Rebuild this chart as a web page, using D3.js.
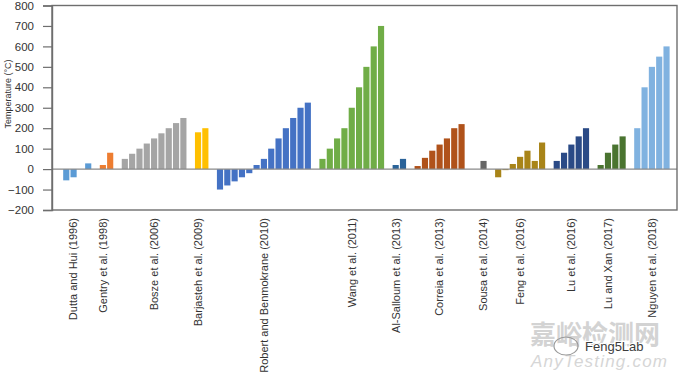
<!DOCTYPE html>
<html>
<head>
<meta charset="utf-8">
<script src="https://cdn.jsdelivr.net/npm/d3@7"></script>
<style>
  body { margin: 0; background: #fff; }
  text { font-family: "Liberation Sans", Arial, sans-serif; }
</style>
</head>
<body>
<div id="chart"></div>
<script>
// studies, in the order they appear on the x axis
const studies = [
    "Dutta and Hui (1996)", "Gentry et al. (1998)", "Bosze et al. (2006)",
    "Barjasteh et al. (2009)", "Robert and Benmokrane (2010)", "Wang et al. (2011)",
    "Al-Salloum et al. (2013)", "Correia et al. (2013)", "Sousa et al. (2014)",
    "Feng et al. (2016)", "Lu et al. (2016)", "Lu and Xan (2017)", "Nguyen et al. (2018)"
]

// temperatures (°C) tested in each study, null = empty slot
const dutta = [-55, -40, null, 28]
const gentry = [20, 80]
const bosze = [50, 75, 100, 125, 150, 175, 200, 225, 250]
const barjasteh = [180, 200]
const robert = [-100, -80, -60, -40, -20, 20, 50, 100, 150, 200, 250, 300, 325]
const wang = [50, 100, 150, 200, 300, 400, 500, 600, 700]
const alSalloum = [20, 50]
const correia = [15, 55, 90, 120, 150, 200, 220]
const sousa = [null, 40]
const feng = [-40, -5, 25, 60, 90, 40, 130]
const luEtAl = [40, 80, 120, 160, 200]
const luXan = [20, 80, 120, 160]
const nguyen = [200, 400, 500, 550, 600]

const temps = [dutta, gentry, bosze, barjasteh, robert, wang, alSalloum,
    correia, sousa, feng, luEtAl, luXan, nguyen]

const yTicks = [-200, -100, 0, 100, 200, 300, 400, 500, 600, 700, 800]

const colors = ["#5b9bd5", "#ed7d31", "#a5a5a5", "#ffc000", "#4472c4", "#70ad47",
    "#2a6399", "#b0521a", "#666666", "#a88418", "#2a4a86", "#4a7430", "#80b2e0"]

// flatten into slots, one blank slot between studies
const slots = []
const labelSlots = []
temps.forEach((vals, s) => {
    if (s > 0) slots.push({ study: s, value: null })
    const start = slots.length
    vals.forEach(v => slots.push({ study: s, value: v }))
    const filled = vals.map((v, i) => v === null ? -1 : i).filter(i => i >= 0)
    labelSlots.push(start + filled[Math.floor((filled.length - 1) / 2)])
})
slots.forEach((d, i) => d.i = i)

var margin = { top: 5.5, right: 3, bottom: 166, left: 52 },
    width = 680 - margin.left - margin.right,
    height = 376 - margin.top - margin.bottom;

var root = d3.select("#chart")
    .append("svg")
    .attr("width", 680)
    .attr("height", 376)

var svg = root.append("g")
    .attr("transform", "translate(" + margin.left + "," + margin.top + ")");

var x = d3.scaleBand()
    .domain(slots.map(d => d.i))
    .range([10.6, 618.2])
    .paddingInner(0.16)
    .paddingOuter(0.08)

var y = d3.scaleLinear()
    .domain([-200, 800])
    .range([height, 0])

// bars
svg.selectAll("rect.bar")
    .data(slots.filter(d => d.value !== null))
    .join("rect")
    .attr("class", "bar")
    .attr("x", d => x(d.i))
    .attr("width", x.bandwidth())
    .attr("y", d => y(Math.max(0, d.value)))
    .attr("height", d => Math.abs(y(d.value) - y(0)))
    .attr("fill", d => colors[d.study])

// zero line
svg.append("line")
    .attr("x1", 0).attr("x2", width)
    .attr("y1", y(0)).attr("y2", y(0))
    .attr("stroke", "#8a8a8a")
    .attr("stroke-width", 1.2)

// frame
svg.append("rect")
    .attr("width", width)
    .attr("height", height)
    .attr("fill", "none")
    .attr("stroke", "#6e6e6e")
    .attr("stroke-width", 1.4)

// y axis
var yAxis = svg.append("g")
    .call(d3.axisLeft(y).tickValues(yTicks).tickSize(9).tickPadding(9))
yAxis.select(".domain").attr("stroke", "#6e6e6e").attr("stroke-width", 1.4)
yAxis.selectAll(".tick line").attr("stroke", "#6e6e6e").attr("stroke-width", 1.2)
yAxis.selectAll(".tick text")
    .attr("fill", "#333")
    .style("font-size", "11.5px")
    .style("font-family", "'Liberation Sans', Arial, sans-serif")

// y title
root.append("text")
    .attr("transform", "translate(11,94) rotate(-90)")
    .attr("text-anchor", "middle")
    .attr("fill", "#333")
    .style("font-size", "9px")
    .text("Temperature (°C)")

// x labels
svg.selectAll("text.study")
    .data(studies)
    .join("text")
    .attr("class", "study")
    .attr("transform", (d, i) => "translate(" + (x(labelSlots[i]) + x.bandwidth() / 2) + "," + (height + 8) + ") rotate(-90)")
    .attr("text-anchor", "end")
    .attr("dy", "0.35em")
    .attr("fill", "#333")
    .style("font-size", "11px")
    .text(d => d)

// watermark
var wm = root.append("g")
wm.append("text")
    .attr("x", 530).attr("y", 344)
    .attr("fill", "#d3d3d3")
    .style("font-family", "'Noto Sans CJK SC', sans-serif")
    .style("font-size", "26px")
    .style("font-weight", "bold")
    .text("嘉峪检测网")
wm.append("text")
    .attr("x", 531).attr("y", 367)
    .attr("fill", "#d6d6d6")
    .style("font-size", "17px")
    .style("font-style", "italic")
    .attr("textLength", 136)
    .text("AnyTesting.com")
wm.append("ellipse")
    .attr("cx", 566).attr("cy", 346).attr("rx", 12).attr("ry", 9)
    .attr("fill", "none").attr("stroke", "#9a9a9a").attr("stroke-width", 1.2)
wm.append("text")
    .attr("x", 585).attr("y", 351)
    .attr("fill", "#3c3c3c")
    .attr("stroke", "#fff").attr("stroke-width", 2).attr("paint-order", "stroke")
    .style("font-size", "13px")
    .text("Feng5Lab")
</script>
</body>
</html>
